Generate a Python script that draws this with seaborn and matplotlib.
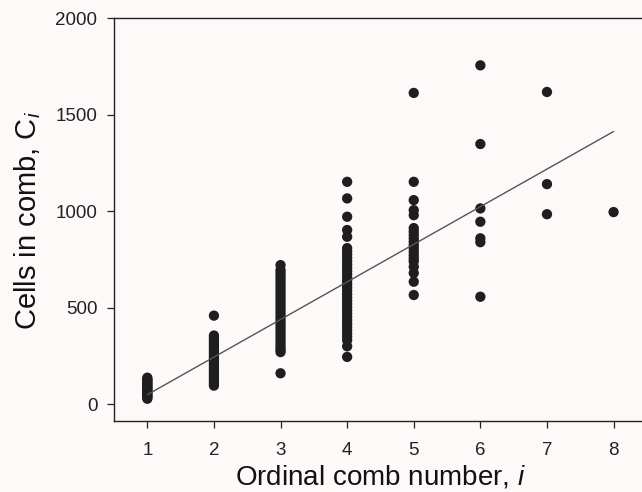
import numpy as np
import pandas as pd
import matplotlib
matplotlib.use("Agg")
import matplotlib.pyplot as plt
import seaborn as sns

# Cells in each comb, grouped by ordinal comb number i
comb_1 = [137, 130, 124, 118, 112, 106, 100, 94, 88, 82, 76, 70, 64, 58, 52, 46, 40, 34, 28]
comb_2 = [459, 356, 345, 333, 320, 308, 295, 283, 270, 258, 245, 232, 220, 208, 195,
          182, 170, 158, 145, 132, 120, 108, 96]
comb_3 = [721, 695, 680, 664, 648, 632, 616, 600, 584, 568, 552, 536, 520, 504, 488,
          472, 456, 440, 424, 408, 392, 376, 360, 344, 328, 312, 296, 282, 270, 160]
comb_4 = [1153, 1067, 972, 903, 868, 809, 792, 775, 758, 741, 724, 707, 690, 673, 656,
          639, 622, 605, 588, 571, 554, 537, 520, 503, 486, 469, 452, 435, 418, 401,
          384, 367, 350, 332, 300, 245]
comb_5 = [1614, 1153, 1058, 1006, 980, 913, 895, 878, 860, 843, 826, 808, 790, 772,
          755, 740, 712, 680, 635, 566]
comb_6 = [1757, 1349, 1015, 946, 860, 840, 557]
comb_7 = [1619, 1141, 985]
comb_8 = [996]

# least-squares line as drawn in the figure
fit_intercept = -146
fit_slope = 195
fit_range = [1, 8]

groups = [comb_1, comb_2, comb_3, comb_4, comb_5, comb_6, comb_7, comb_8]
df = pd.DataFrame({
    "i": np.concatenate([[k + 1] * len(g) for k, g in enumerate(groups)]),
    "cells": np.concatenate(groups),
})
fit_x = np.array(fit_range)
fit_df = pd.DataFrame({"i": fit_x, "cells": fit_intercept + fit_slope * fit_x})

sns.set_style("ticks")
plt.rcParams["font.family"] = ["Liberation Sans", "DejaVu Sans"]
plt.rcParams["mathtext.fontset"] = "custom"
plt.rcParams["mathtext.rm"] = "Liberation Sans"
plt.rcParams["mathtext.it"] = "Liberation Sans:italic"

bg = "#fcf9f8"
fig = plt.figure(figsize=(6.42, 4.92), dpi=100, facecolor=bg)
ax = fig.add_axes([0.1776, 0.1433, 0.830, 0.8191], facecolor=bg)

sns.lineplot(data=fit_df, x="i", y="cells", color="#555555", linewidth=1.0, ax=ax, zorder=3)
sns.scatterplot(data=df, x="i", y="cells", color="#1e1e1e", s=55, edgecolor="none",
                ax=ax, zorder=2)

ax.set_xlim(0.5, 8.5)
ax.set_ylim(-90, 2000)
ax.set_xticks(range(1, 9))
ax.set_yticks([0, 500, 1000, 1500, 2000])
ax.tick_params(axis="both", direction="out", length=5, width=0.9, labelsize=13.5,
               colors="#222222")
ax.tick_params(axis="x", pad=10)
ax.tick_params(axis="y", pad=7)
for sp in ax.spines.values():
    sp.set_linewidth(1.0)
    sp.set_color("#222222")

ax.set_xlabel("Ordinal comb number, $i$", fontsize=20, labelpad=3, color="#111111")
ax.set_ylabel("Cells in comb, C$_i$", fontsize=21, labelpad=9, color="#111111")

fig.savefig("out.png", dpi=100, facecolor=bg)
